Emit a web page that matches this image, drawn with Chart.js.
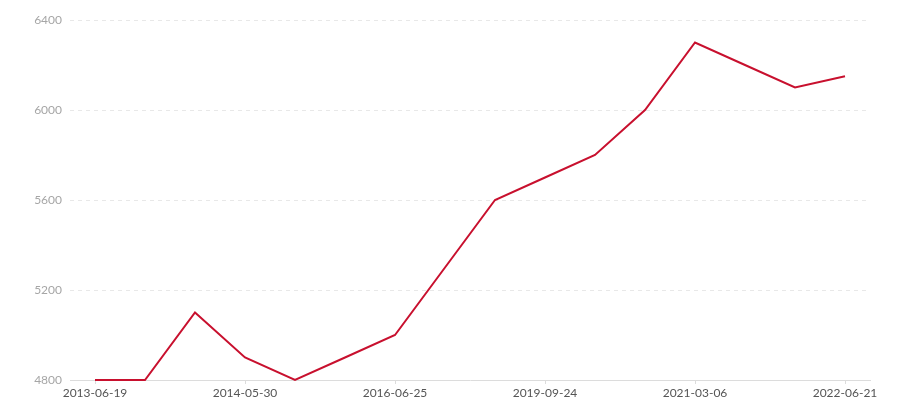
<!DOCTYPE html>
<html>
<head>
<meta charset="utf-8">
<script src="https://cdn.jsdelivr.net/npm/chart.js@4"></script>
<style>
    html, body { margin: 0; padding: 0; background: #fff; }
    #wrap { width: 900px; height: 400px; }
</style>
</head>
<body>
<div id="wrap"><canvas id="lineChart"></canvas></div>
<script>
// Data
const dates = [
    '2013-06-19', '2013-09-12', '2014-01-08', '2014-05-30', '2014-11-20', '2015-08-14',
    '2016-06-25', '2017-05-10', '2018-07-18', '2019-09-24', '2020-04-15', '2020-09-30',
    '2021-03-06', '2021-08-19', '2022-01-12', '2022-06-21'
];
const values = [4800, 4800, 5100, 4900, 4800, 4900, 5000, 5300, 5600, 5700, 5800, 6000, 6300, 6200, 6100, 6150];
const yTicks = [4800, 5200, 5600, 6000, 6400];

const COLORS = {
    line: '#c8102e',
    grid: '#e8e8e8',
    axis: '#dcdcdc',
    yText: '#a6a6a6',
    xText: '#555'
};

Chart.defaults.font.family = 'Lato, "Noto Sans", sans-serif';
Chart.defaults.font.size = 12;

new Chart(document.getElementById('lineChart'), {
    type: 'line',
    data: {
        labels: dates,
        datasets: [{
            data: values,
            borderColor: COLORS.line,
            borderWidth: 2,
            pointRadius: 0,
            tension: 0,
            fill: false,
            clip: false
        }]
    },
    options: {
        responsive: true,
        maintainAspectRatio: false,
        animation: false,
        layout: { padding: { top: 20, right: 30, left: 0, bottom: 0 } },
        plugins: {
            legend: { display: false },
            tooltip: { enabled: false }
        },
        scales: {
            x: {
                offset: true,
                afterFit: s => { s.height = 20; },
                grid: {
                    display: true,
                    drawOnChartArea: false,
                    offset: false,
                    tickLength: 4,
                    color: COLORS.axis
                },
                border: { display: true, color: COLORS.axis, width: 1 },
                ticks: {
                    color: COLORS.xText,
                    maxRotation: 0,
                    autoSkip: true,
                    maxTicksLimit: 6,
                    padding: 2
                }
            },
            y: {
                min: yTicks[0],
                max: yTicks[yTicks.length - 1],
                afterFit: s => { s.width = 70; },
                afterBuildTicks: s => { s.ticks = yTicks.map(v => ({ value: v })); },
                grid: {
                    color: ctx => ctx.tick && ctx.tick.value === yTicks[0] ? 'rgba(0,0,0,0)' : COLORS.grid,
                    drawTicks: false
                },
                border: { display: false, dash: [4, 4] },
                ticks: {
                    color: COLORS.yText,
                    padding: 8,
                    callback: v => String(v)
                }
            }
        }
    }
});
</script>
</body>
</html>
